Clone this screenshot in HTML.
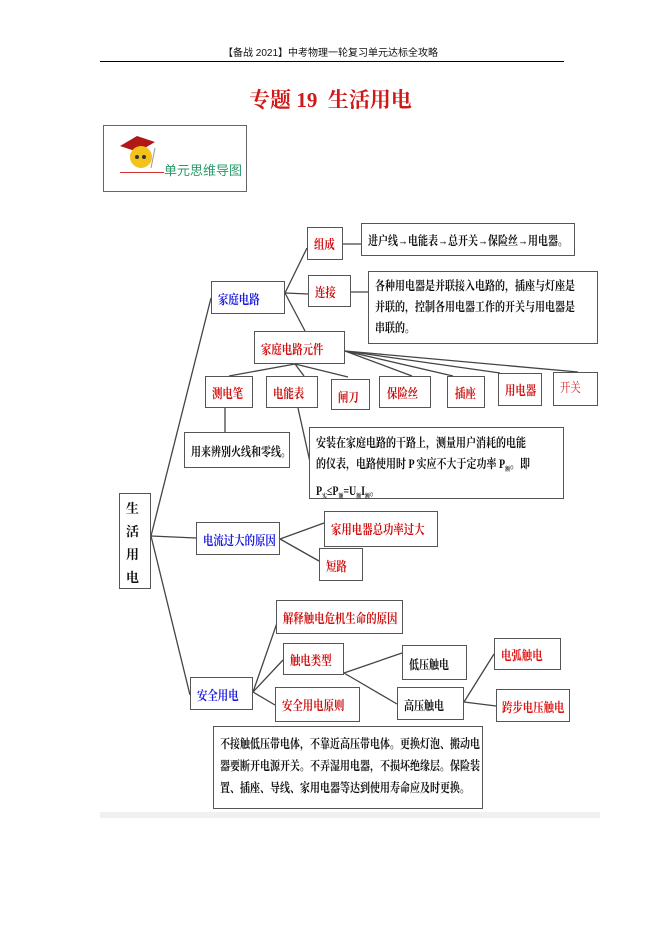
<!DOCTYPE html>
<html><head><meta charset="utf-8"><style>
body{margin:0;background:#fff;}
#p{position:relative;width:661px;height:935px;overflow:hidden;font-family:"Liberation Serif","Noto Serif CJK SC","Noto Sans CJK SC",serif;}
.b{position:absolute;border:1.3px solid #555;box-sizing:border-box;background:#fff;font-weight:bold;white-space:nowrap;overflow:visible;}
.b>span{display:block;transform:scaleX(.8);transform-origin:0 0;}
.r{color:#d01010;font-size:13px;}
.u{color:#1a1ae0;font-size:13px;}
.k{color:#111;font-size:12.5px;}
.t{position:absolute;}
.s{font-size:6px;vertical-align:-3px;}
</style></head><body><div id="p">
<div class="t" style="left:0;width:661px;top:44px;text-align:center;font-size:10px;font-family:'Liberation Sans','Noto Sans CJK SC',sans-serif;color:#111;">【备战 2021】中考物理一轮复习单元达标全攻略</div>
<div class="t" style="left:100px;top:61px;width:464px;height:1px;background:#000;"></div>
<div class="t" style="left:0;width:661px;top:84px;text-align:center;font-size:21px;color:#d01818;font-weight:bold;">专题 19&nbsp; 生活用电</div>
<div class="t" style="left:103px;top:125px;width:144px;height:67px;border:1px solid #666;box-sizing:border-box;"></div>
<svg class="t" style="left:115px;top:130px" width="50" height="45"><path d="M5 16 L22 6 L40 12 L23 22Z" fill="#b01818"/><circle cx="26" cy="27" r="11" fill="#f3c21c"/><circle cx="22" cy="27" r="2" fill="#333"/><circle cx="29" cy="27" r="2" fill="#333"/><line x1="40" y1="18" x2="36" y2="38" stroke="#999"/></svg>
<div class="t" style="left:120px;top:172px;width:44px;height:1px;background:#c33;"></div>
<div class="t" style="left:164px;top:160px;font-size:13px;color:#2a9a6a;font-family:'Liberation Sans','Noto Sans CJK SC',sans-serif;">单元思维导图</div>

<svg class="t" style="left:0;top:0" width="661" height="935" fill="none" stroke="#444" stroke-width="1.3">
<line x1="151" y1="536" x2="211" y2="298"/><line x1="151" y1="536" x2="196" y2="538"/><line x1="151" y1="536" x2="190" y2="695"/>
<line x1="285" y1="293" x2="307" y2="248"/><line x1="285" y1="293" x2="308" y2="294"/><line x1="285" y1="293" x2="305" y2="331"/>
<line x1="343" y1="244" x2="361" y2="244"/><line x1="351" y1="292" x2="368" y2="292"/>
<line x1="295" y1="364" x2="229" y2="376"/><line x1="295" y1="364" x2="304" y2="376"/><line x1="295" y1="364" x2="348" y2="377"/>
<line x1="345" y1="351" x2="412" y2="376"/><line x1="345" y1="351" x2="453" y2="376"/><line x1="345" y1="351" x2="500" y2="373"/><line x1="345" y1="351" x2="578" y2="372"/>
<line x1="225" y1="408" x2="225" y2="432"/><line x1="298" y1="408" x2="310" y2="462"/>
<line x1="280" y1="539" x2="324" y2="523"/><line x1="280" y1="539" x2="319" y2="561"/>
<line x1="253" y1="692" x2="277" y2="623"/><line x1="253" y1="692" x2="283" y2="660"/><line x1="253" y1="692" x2="275" y2="705"/>
<line x1="344" y1="673" x2="402" y2="653"/><line x1="344" y1="673" x2="397" y2="704"/>
<line x1="464" y1="702" x2="494" y2="654"/><line x1="464" y1="702" x2="496" y2="706"/>
</svg>

<div class="b r" style="left:307px;top:227px;width:36px;height:33px;padding:6px 0 0 6px;"><span>组成</span></div>
<div class="b k" style="left:361px;top:223px;width:214px;height:33px;padding:7px 0 0 6px;"><span>进户线→电能表→总开关→保险丝→用电器。</span></div>
<div class="b u" style="left:211px;top:281px;width:74px;height:33px;padding:7px 0 0 6px;"><span>家庭电路</span></div>
<div class="b r" style="left:308px;top:275px;width:43px;height:32px;padding:6px 0 0 6px;"><span>连接</span></div>
<div class="b k" style="left:368px;top:271px;width:230px;height:73px;padding:4px 0 0 6px;line-height:21px;"><span>各种用电器是并联接入电路的，插座与灯座是<br>并联的，控制各用电器工作的开关与用电器是<br>串联的。</span></div>
<div class="b r" style="left:254px;top:331px;width:91px;height:33px;padding:7px 0 0 6px;"><span>家庭电路元件</span></div>
<div class="b r" style="left:205px;top:376px;width:48px;height:32px;padding:6px 0 0 6px;"><span>测电笔</span></div>
<div class="b r" style="left:266px;top:376px;width:52px;height:32px;padding:6px 0 0 6px;"><span>电能表</span></div>
<div class="b r" style="left:331px;top:379px;width:39px;height:31px;padding:7px 0 0 6px;"><span>闸刀</span></div>
<div class="b r" style="left:379px;top:376px;width:52px;height:32px;padding:6px 0 0 7px;"><span>保险丝</span></div>
<div class="b r" style="left:447px;top:376px;width:38px;height:32px;padding:6px 0 0 7px;"><span>插座</span></div>
<div class="b r" style="left:498px;top:373px;width:44px;height:33px;padding:6px 0 0 6px;"><span>用电器</span></div>
<div class="b" style="left:553px;top:372px;width:45px;height:34px;padding:4px 0 0 6px;color:#e02020;font-size:13px;font-weight:normal;"><span>开关</span></div>
<div class="b k" style="left:184px;top:432px;width:106px;height:36px;padding:9px 0 0 6px;"><span>用来辨别火线和零线。</span></div>
<div class="b k" style="left:309px;top:427px;width:255px;height:72px;padding:5px 0 0 6px;line-height:21px;"><span>安装在家庭电路的干路上，测量用户消耗的电能<br>的仪表，电路使用时 P 实应不大于定功率 P<span class="s">额</span>。即<br>P<span class="s">实</span>≤P<span class="s">额</span>=U<span class="s">额</span>I<span class="s">额</span>。</span></div>
<div class="b" style="left:119px;top:493px;width:32px;height:96px;padding:3px 0 0 6px;font-size:13px;line-height:23px;white-space:normal;color:#111;">生<br>活<br>用<br>电</div>
<div class="b u" style="left:196px;top:522px;width:84px;height:33px;padding:7px 0 0 6px;"><span>电流过大的原因</span></div>
<div class="b r" style="left:324px;top:511px;width:114px;height:36px;padding:7px 0 0 6px;"><span>家用电器总功率过大</span></div>
<div class="b r" style="left:319px;top:548px;width:44px;height:33px;padding:7px 0 0 6px;"><span>短路</span></div>
<div class="b r" style="left:276px;top:600px;width:127px;height:34px;padding:7px 0 0 6px;"><span>解释触电危机生命的原因</span></div>
<div class="b r" style="left:283px;top:643px;width:61px;height:32px;padding:6px 0 0 6px;"><span>触电类型</span></div>
<div class="b u" style="left:190px;top:677px;width:63px;height:33px;padding:7px 0 0 6px;"><span>安全用电</span></div>
<div class="b r" style="left:275px;top:687px;width:85px;height:35px;padding:7px 0 0 6px;"><span>安全用电原则</span></div>
<div class="b k" style="left:402px;top:645px;width:65px;height:35px;padding:9px 0 0 6px;"><span>低压触电</span></div>
<div class="b k" style="left:397px;top:687px;width:67px;height:33px;padding:8px 0 0 6px;"><span>高压触电</span></div>
<div class="b r" style="left:494px;top:638px;width:67px;height:32px;padding:6px 0 0 6px;color:#e01010;"><span>电弧触电</span></div>
<div class="b r" style="left:496px;top:689px;width:74px;height:33px;padding:7px 0 0 5px;color:#e01010;"><span>跨步电压触电</span></div>
<div class="b k" style="left:213px;top:726px;width:270px;height:83px;padding:6px 0 0 6px;line-height:22px;"><span>不接触低压带电体，不靠近高压带电体。更换灯泡、搬动电<br>器要断开电源开关。不弄湿用电器，不损坏绝缘层。保险装<br>置、插座、导线、家用电器等达到使用寿命应及时更换。</span></div>
<div class="t" style="left:100px;top:812px;width:500px;height:6px;background:#f0f0f0;"></div>
</div></body></html>
